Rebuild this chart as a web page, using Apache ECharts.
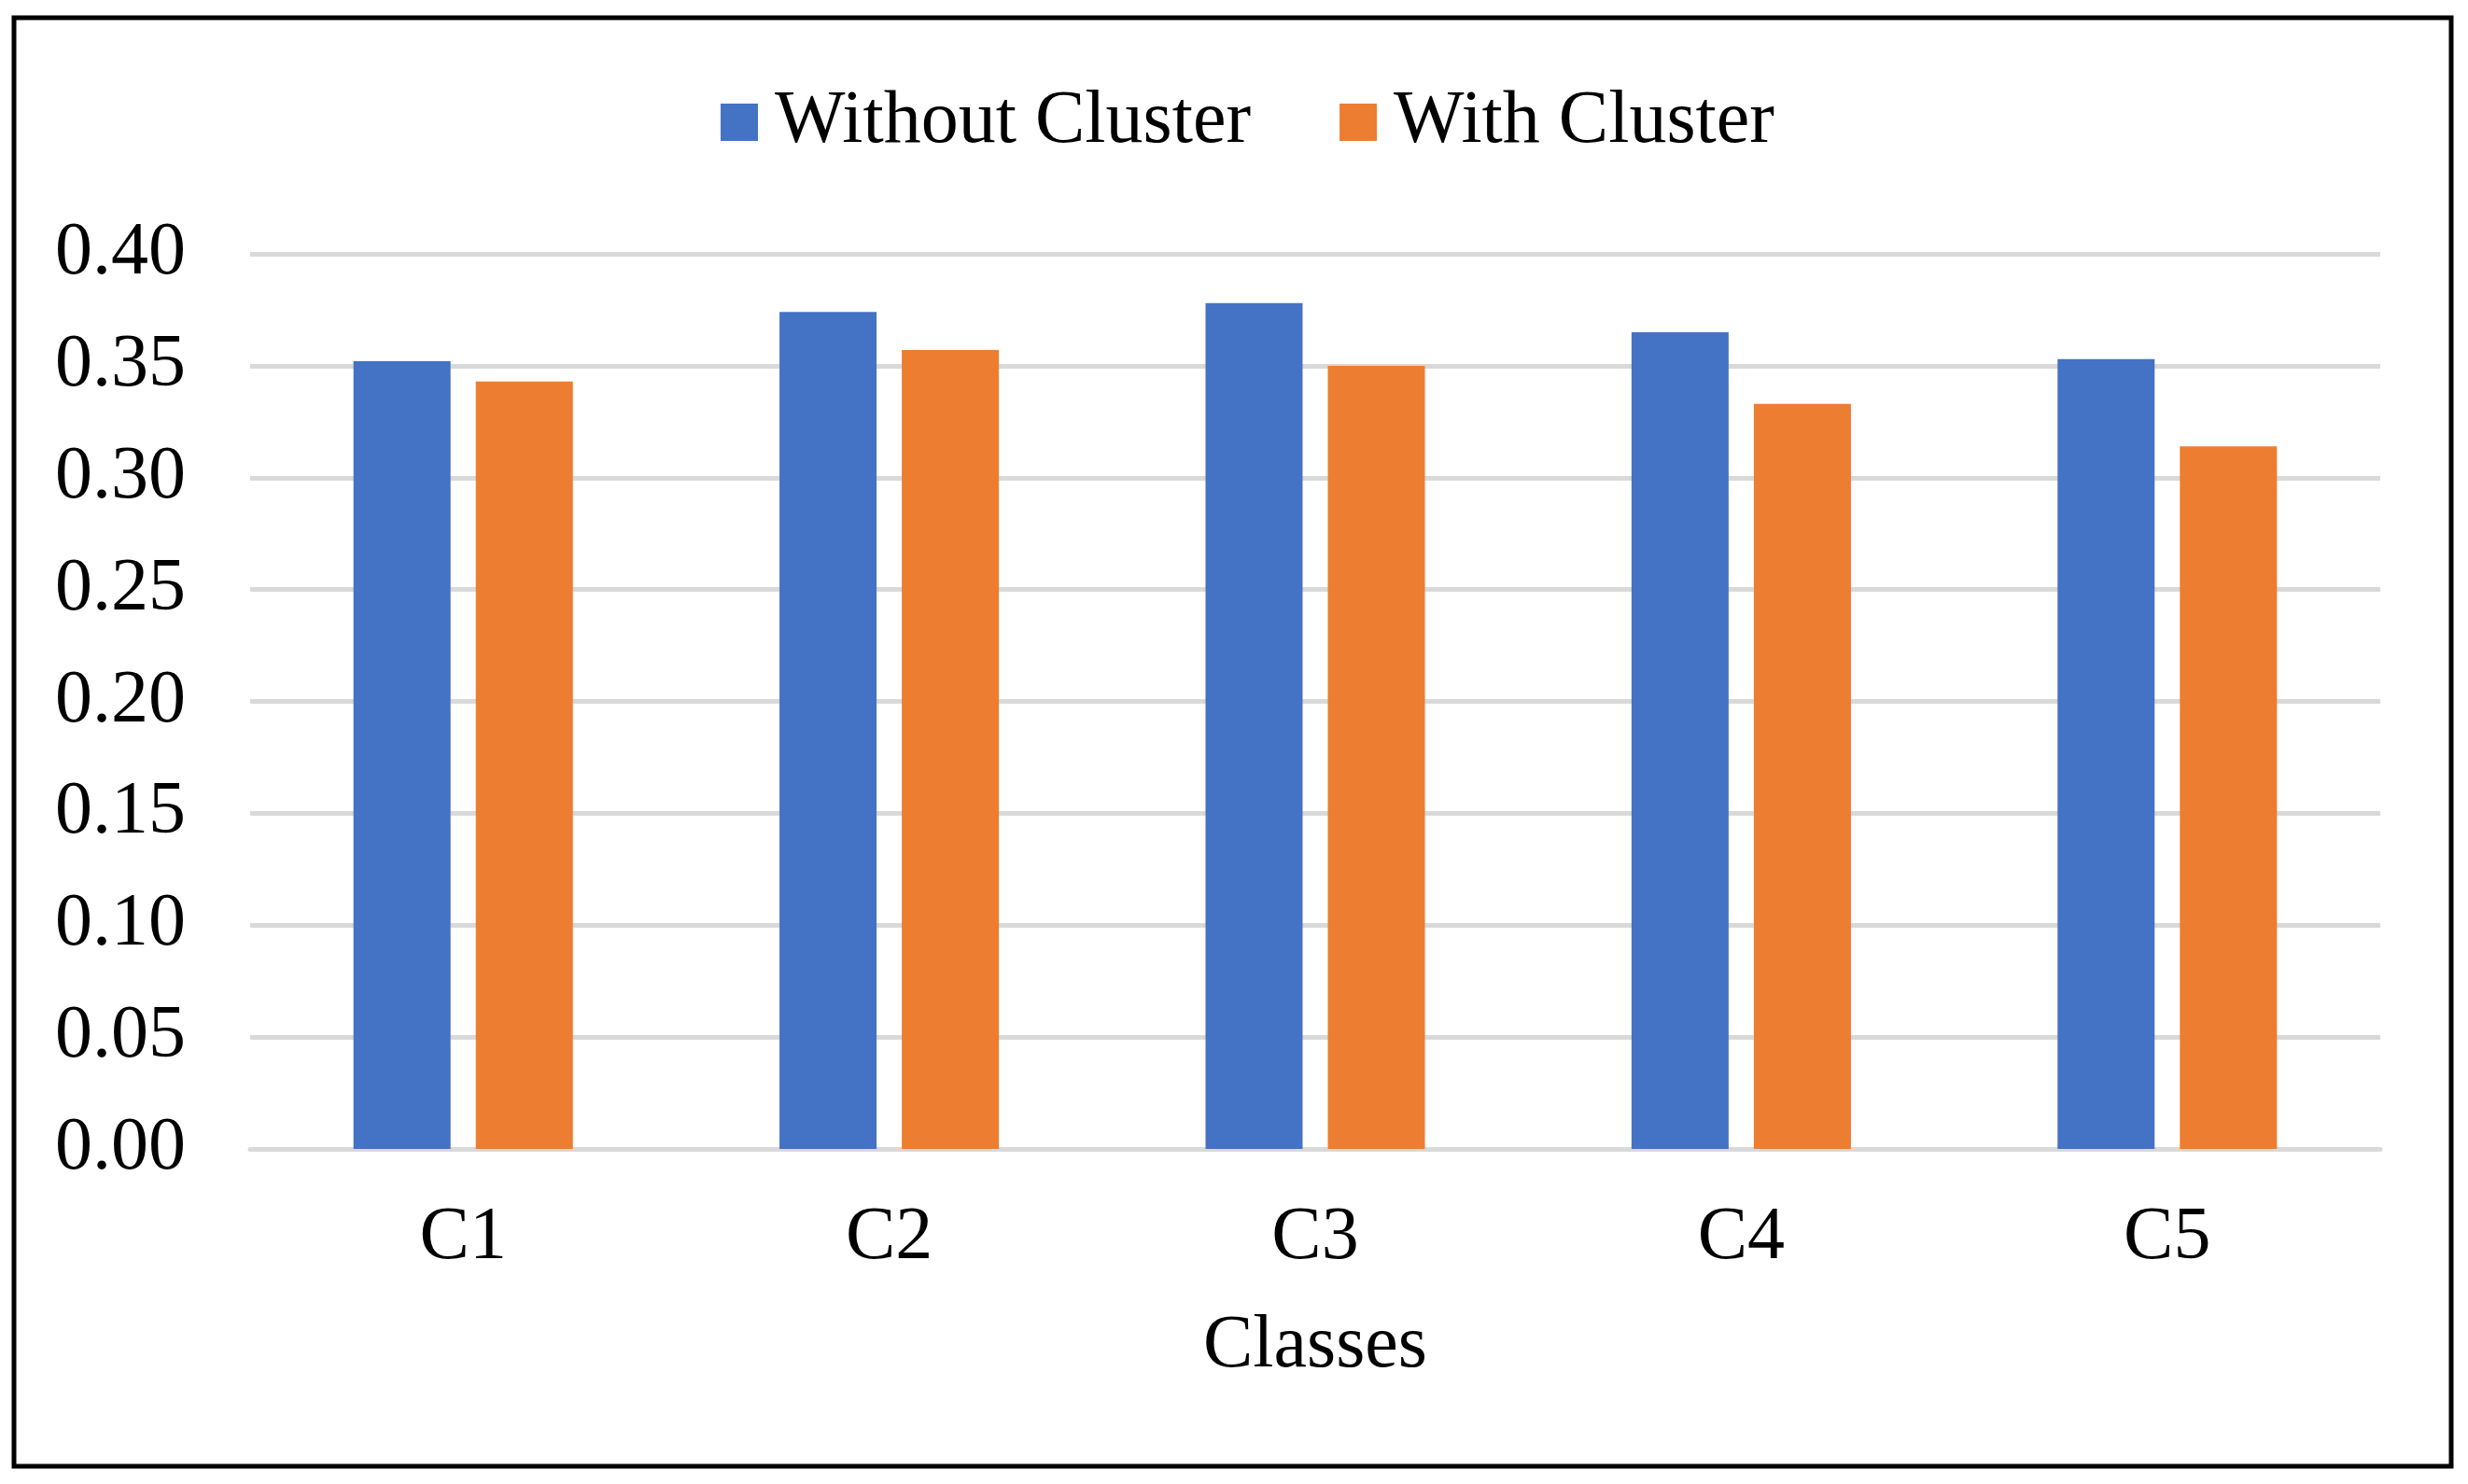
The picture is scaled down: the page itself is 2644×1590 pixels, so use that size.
<!DOCTYPE html>
<html>
<head>
<meta charset="utf-8">
<script src="https://cdn.jsdelivr.net/npm/echarts@6/dist/echarts.min.js"></script>
<style>
html,body{margin:0;padding:0;background:#fff;}
#chart{width:2644px;height:1590px;}
</style>
</head>
<body>
<div id="chart"></div>
<script>
const categories = ['C1', 'C2', 'C3', 'C4', 'C5'];
const seriesNames = ['Without Cluster', 'With Cluster'];
const withoutCluster = [0.352, 0.374, 0.378, 0.365, 0.353];
const withCluster = [0.343, 0.357, 0.350, 0.333, 0.314];
const yTicks = { min: 0, max: 0.40, interval: 0.05 };
const xAxisName = 'Classes';

const FONT = '"Liberation Serif", "Times New Roman", serif';
const chart = echarts.init(document.getElementById('chart'));
chart.setOption({
  backgroundColor: '#ffffff',
  animation: false,
  textStyle: { fontFamily: FONT, color: '#000' },
  graphic: [{
    type: 'rect',
    shape: { x: 15, y: 19, width: 2611, height: 1552 },
    style: { fill: 'none', stroke: '#000', lineWidth: 5 },
    silent: true
  }],
  legend: {
    data: seriesNames,
    left: 767,
    top: 86,
    itemWidth: 40,
    itemHeight: 40,
    itemGap: 95,
    icon: 'rect',
    textStyle: { fontFamily: FONT, fontSize: 80, color: '#000', padding: [0, 0, 0, 13] }
  },
  grid: { left: 268, right: 94, top: 272, bottom: 359, containLabel: false },
  xAxis: {
    type: 'category',
    data: categories,
    name: xAxisName,
    nameLocation: 'middle',
    nameGap: 172,
    nameTextStyle: { fontFamily: FONT, fontSize: 80, color: '#000' },
    axisTick: { show: false },
    axisLine: { lineStyle: { color: '#D9D9D9', width: 5 } },
    axisLabel: { fontFamily: FONT, fontSize: 80, color: '#000', margin: 56 }
  },
  yAxis: {
    type: 'value',
    min: yTicks.min,
    max: yTicks.max,
    interval: yTicks.interval,
    axisLine: { show: false },
    axisTick: { show: false },
    splitLine: { lineStyle: { color: '#D9D9D9', width: 5 } },
    axisLabel: {
      fontFamily: FONT, fontSize: 80, color: '#000', margin: 69,
      formatter: v => v.toFixed(2)
    }
  },
  series: [
    { name: seriesNames[0], type: 'bar', data: withoutCluster, barWidth: 104, barGap: '26%',
      itemStyle: { color: '#4472C4' } },
    { name: seriesNames[1], type: 'bar', data: withCluster, barWidth: 104, barGap: '26%',
      itemStyle: { color: '#ED7D31' } }
  ]
});
</script>
</body>
</html>
